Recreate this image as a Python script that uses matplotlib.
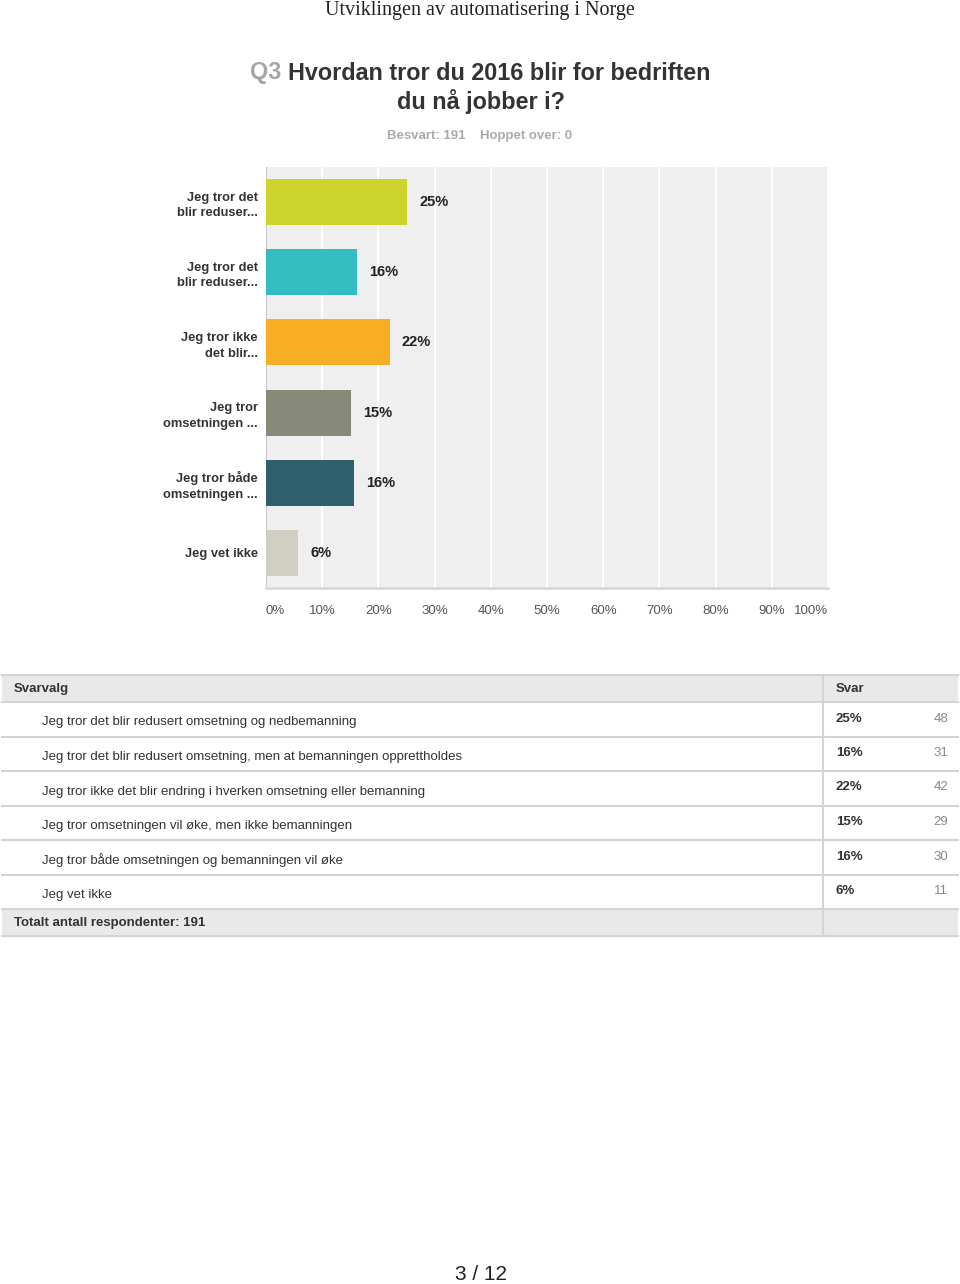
import matplotlib.pyplot as plt
from matplotlib.patches import Rectangle

plt.rcParams['font.family'] = ['Liberation Sans', 'DejaVu Sans']

# data
short_labels = ['Jeg tror det\nblir reduser...', 'Jeg tror det\nblir reduser...',
                'Jeg tror ikke\ndet blir...', 'Jeg tror\nomsetningen ...',
                'Jeg tror både\nomsetningen ...', 'Jeg vet ikke']
full_labels = ['Jeg tror det blir redusert omsetning og nedbemanning',
               'Jeg tror det blir redusert omsetning, men at bemanningen opprettholdes',
               'Jeg tror ikke det blir endring i hverken omsetning eller bemanning',
               'Jeg tror omsetningen vil øke, men ikke bemanningen',
               'Jeg tror både omsetningen og bemanningen vil øke',
               'Jeg vet ikke']
counts = [48, 31, 42, 29, 30, 11]
total = 191
percents = [c / total * 100 for c in counts]
bar_colors = ['#cdd42c', '#35bec1', '#f7ae23', '#888a79', '#2e5f6d', '#d1cfc2']
xticks = list(range(0, 101, 10))

W, H = 960, 1284
fig = plt.figure(figsize=(W / 100, H / 100), dpi=100)

# page overlay in pixel coordinates
pg = fig.add_axes([0, 0, 1, 1])
pg.set_xlim(0, W)
pg.set_ylim(H, 0)
pg.axis('off')

pg.text(480, 10, 'Utviklingen av automatisering i Norge', ha='center', va='center',
        fontsize=14.5, family=['Liberation Serif'], color='#222222')

pg.text(250, 73, 'Q3', ha='left', va='center', fontsize=16.8, fontweight='bold', color='#a5a5a5')
pg.text(288, 73, 'Hvordan tror du 2016 blir for bedriften', ha='left', va='center',
        fontsize=16.8, fontweight='bold', color='#333333')
pg.text(481, 101, 'du nå jobber i?', ha='center', va='center',
        fontsize=16.8, fontweight='bold', color='#333333')
pg.text(480, 136, 'Besvart: 191    Hoppet over: 0', ha='center', va='center',
        fontsize=9.5, fontweight='bold', color='#aaaaaa')

# bar chart
ax = fig.add_axes([266 / W, 1 - 588 / H, (828 - 266) / W, (588 - 167) / H])
ax.set_facecolor('#efefef')
ypos = list(range(len(percents)))
ax.barh(ypos, percents, height=0.655, color=bar_colors, zorder=3)
ax.set_xlim(0, 100)
ax.set_ylim(len(percents) - 0.5, -0.5)
ax.set_xticks(xticks)
ax.set_xticklabels([f'{t}%' for t in xticks])
ax.xaxis.grid(True, color='white', lw=1.3, zorder=1)
ax.set_axisbelow(True)
ax.tick_params(axis='x', length=0, pad=12, labelsize=9.5, labelcolor='#555555')
labs = ax.get_xticklabels()
labs[0].set_ha('left')
labs[-1].set_ha('right')
ax.set_yticks(ypos)
ax.set_yticklabels(short_labels, fontweight='bold', fontsize=9.3, color='#333333',
                   linespacing=1.4)
ax.tick_params(axis='y', length=0, pad=6)
for s in ['top', 'right']:
    ax.spines[s].set_visible(False)
ax.spines['left'].set_color('#cccccc')
ax.spines['bottom'].set_color('#d9d9d9')
ax.spines['bottom'].set_linewidth(2)
for y, p in zip(ypos, percents):
    ax.text(p + 2.1, y, f'{round(p)}%', ha='left', va='center',
            fontsize=10.5, fontweight='bold', color='#222222')

# table
top, head_h, row_h, foot_h = 675, 27, 34.5, 27
col_x = 823
line_c = '#d4d4d4'
pg.add_patch(Rectangle((2, top), W - 4, head_h, facecolor='#e9e9e9', edgecolor='none'))
pg.plot([2, W - 2], [top, top], color=line_c, lw=1.5)
pg.plot([2, W - 2], [top + head_h, top + head_h], color=line_c, lw=1.5)
pg.text(14, top + 14, 'Svarvalg', ha='left', va='center', fontsize=9.5,
        fontweight='bold', color='#333333')
pg.text(836, top + 14, 'Svar', ha='left', va='center', fontsize=9.5,
        fontweight='bold', color='#333333')
y0 = top + head_h
for i, (lab, p, c) in enumerate(zip(full_labels, percents, counts)):
    ya = y0 + i * row_h
    yb = ya + row_h
    pg.plot([2, W - 2], [yb, yb], color=line_c, lw=1.5)
    pg.text(42, ya + 20.5, lab, ha='left', va='center', fontsize=9.5, color='#333333')
    pg.text(836, ya + 16.5, f'{round(p)}%', ha='left', va='center', fontsize=9.5,
            fontweight='bold', color='#333333')
    pg.text(948, ya + 16.5, str(c), ha='right', va='center', fontsize=9.5, color='#888888')
foot_top = y0 + len(counts) * row_h
pg.add_patch(Rectangle((2, foot_top), W - 4, foot_h, facecolor='#e9e9e9', edgecolor='none'))
pg.plot([2, W - 2], [foot_top + foot_h, foot_top + foot_h], color=line_c, lw=1.5)
pg.plot([col_x, col_x], [top, foot_top + foot_h], color=line_c, lw=1.5)
pg.text(14, foot_top + 14, f'Totalt antall respondenter: {total}', ha='left', va='center',
        fontsize=9.5, fontweight='bold', color='#333333')

pg.text(481, 1274, '3 / 12', ha='center', va='center', fontsize=15, color='#222222')

fig.savefig('out.png', dpi=100, facecolor='white')
